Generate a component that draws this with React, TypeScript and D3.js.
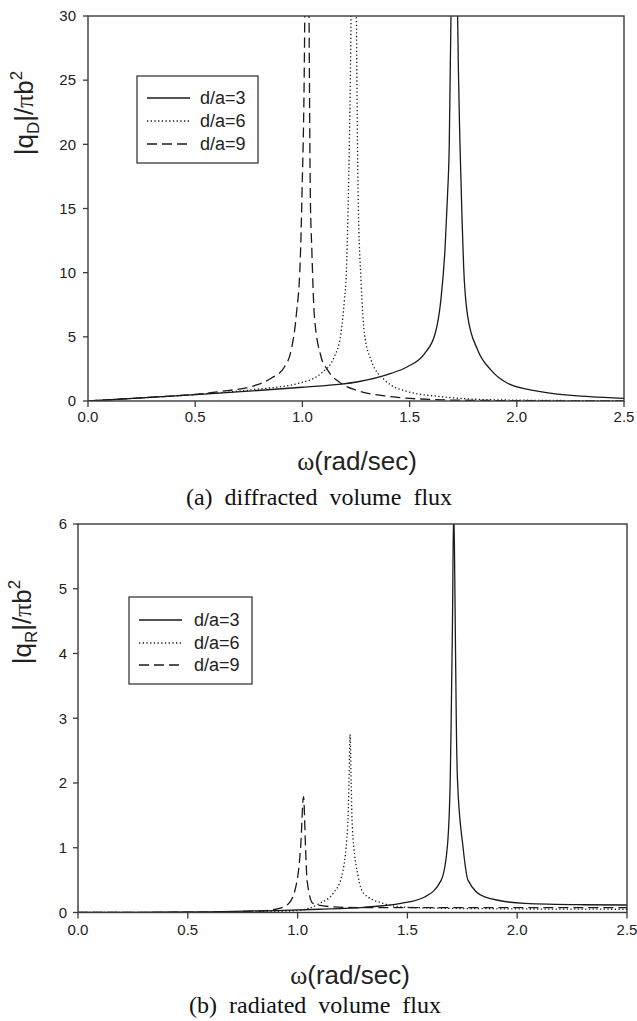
import React from "react";
import * as d3 from "d3";

// ---------- data ----------
const X_TICKS = [0, 0.5, 1.0, 1.5, 2.0, 2.5];
const TOP_Y_TICKS = [0, 5, 10, 15, 20, 25, 30];
const BOT_Y_TICKS = [0, 1, 2, 3, 4, 5, 6];
const LEGEND_LABELS = ["d/a=3", "d/a=6", "d/a=9"];

// (a) diffracted volume flux
const diffOmega3 = [0, 0.25, 0.5, 0.75, 1.0, 1.18, 1.26, 1.413, 1.49, 1.57, 1.62, 1.646, 1.665, 1.676, 1.685, 1.693, 1.7, 1.708, 1.716, 1.724, 1.735, 1.745, 1.752, 1.771, 1.817, 1.88, 1.957, 2.11, 2.34, 2.5];
const diffValue3 = [0, 0.24, 0.5, 0.77, 1.07, 1.31, 1.5, 2.15, 2.67, 3.7, 5.3, 7.9, 11.8, 15.7, 20, 30, 45, 70, 45, 30, 20, 14, 10.5, 6.6, 4.0, 2.4, 1.38, 0.73, 0.34, 0.2];

const diffOmega6 = [0, 0.25, 0.5, 0.777, 0.994, 1.087, 1.149, 1.18, 1.196, 1.205, 1.213, 1.22, 1.227, 1.234, 1.24, 1.246, 1.252, 1.26, 1.274, 1.289, 1.32, 1.383, 1.491, 1.646, 1.88, 2.2, 2.5];
const diffValue6 = [0, 0.24, 0.5, 0.9, 1.43, 2.15, 3.45, 5.3, 7.9, 10, 15, 21, 30, 45, 70, 45, 30, 16, 9.2, 5.3, 3.2, 1.64, 0.73, 0.34, 0.1, 0.04, 0.02];

const diffOmega9 = [0, 0.25, 0.5, 0.62, 0.777, 0.854, 0.917, 0.948, 0.971, 0.99, 0.998, 1.011, 1.016, 1.021, 1.026, 1.031, 1.037, 1.044, 1.056, 1.087, 1.118, 1.18, 1.26, 1.413, 1.6, 1.8, 2.1, 2.5];
const diffValue9 = [0, 0.25, 0.52, 0.75, 1.2, 1.77, 2.67, 4.0, 6.6, 11, 16, 30, 45, 70, 45, 30, 16, 11.8, 6.6, 3.45, 2.4, 1.38, 0.8, 0.34, 0.12, 0.05, 0.02, 0.01];

// (b) radiated volume flux
const radOmega3 = [0, 0.3, 0.6, 0.9, 1.1, 1.3, 1.47, 1.579, 1.654, 1.682, 1.695, 1.699, 1.705, 1.711, 1.718, 1.723, 1.728, 1.753, 1.776, 1.852, 2.034, 2.3, 2.5];
const radValue3 = [0, 0.003, 0.01, 0.03, 0.05, 0.08, 0.14, 0.24, 0.5, 1.02, 2.05, 2.87, 4.41, 6.3, 4.41, 2.87, 2.05, 1.02, 0.5, 0.24, 0.14, 0.12, 0.116];

const radOmega6 = [0, 0.5, 0.8, 1.0, 1.1, 1.163, 1.2, 1.228, 1.234, 1.239, 1.244, 1.249, 1.276, 1.3, 1.39, 1.5, 1.8, 2.5];
const radValue6 = [0, 0.003, 0.01, 0.03, 0.14, 0.3, 0.55, 1.33, 2.0, 2.75, 2.0, 1.33, 0.55, 0.3, 0.14, 0.08, 0.06, 0.05];

const radOmega9 = [0, 0.5, 0.8, 0.9, 0.96, 0.998, 1.014, 1.027, 1.036, 1.043, 1.07, 1.15, 1.3, 2.5];
const radValue9 = [0, 0.005, 0.02, 0.05, 0.14, 0.5, 1.02, 1.79, 1.02, 0.5, 0.14, 0.09, 0.074, 0.074];

const DASHES = ["none", "1.3,2.4", "10,5"];
const LINE_COLOR = "#1a1a1a";
const AXIS_COLOR = "#3a3a3a";
const SANS = "'Liberation Sans', Arial, sans-serif";
const SERIF = "'Liberation Serif', 'Times New Roman', serif";

type Series = { x: number[]; y: number[] };

const topSeries: Series[] = [
  { x: diffOmega3, y: diffValue3 },
  { x: diffOmega6, y: diffValue6 },
  { x: diffOmega9, y: diffValue9 },
];
const botSeries: Series[] = [
  { x: radOmega3, y: radValue3 },
  { x: radOmega6, y: radValue6 },
  { x: radOmega9, y: radValue9 },
];

type PanelProps = {
  id: string;
  left: number;
  right: number;
  top: number;
  bottom: number;
  yMax: number;
  yTicks: number[];
  series: Series[];
  yTickLabelX: number;
  xTickLabelY: number;
  legend: { x: number; y: number; w: number; h: number; lineX: number; textX: number; rowY: number[] };
};

function Panel(p: PanelProps) {
  const xs = d3.scaleLinear().domain([0, 2.5]).range([p.left, p.right]);
  const ys = d3.scaleLinear().domain([0, p.yMax]).range([p.bottom, p.top]);
  const line = d3
    .line<[number, number]>()
    .x((d) => xs(d[0]))
    .y((d) => ys(d[1]))
    .curve(d3.curveMonotoneX);
  return (
    <g>
      <defs>
        <clipPath id={p.id}>
          <rect x={p.left} y={p.top} width={p.right - p.left} height={p.bottom - p.top} />
        </clipPath>
      </defs>
      <g clipPath={`url(#${p.id})`}>
        {p.series.map((s, i) => (
          <path
            key={i}
            d={line(s.x.map((v, j) => [v, s.y[j]] as [number, number])) || ""}
            fill="none"
            stroke={LINE_COLOR}
            strokeWidth={1.3}
            strokeDasharray={DASHES[i]}
          />
        ))}
      </g>
      <rect
        x={p.left}
        y={p.top}
        width={p.right - p.left}
        height={p.bottom - p.top}
        fill="none"
        stroke={AXIS_COLOR}
        strokeWidth={1.4}
      />
      {p.yTicks.map((t) => (
        <g key={"y" + t}>
          <line x1={p.left - 5} x2={p.left} y1={ys(t)} y2={ys(t)} stroke={AXIS_COLOR} strokeWidth={1.3} />
          <text
            x={p.yTickLabelX}
            y={ys(t)}
            dy="0.35em"
            textAnchor="end"
            fontFamily={SANS}
            fontSize={15}
            fill="#222"
          >
            {t}
          </text>
        </g>
      ))}
      {X_TICKS.map((t) => (
        <g key={"x" + t}>
          <line x1={xs(t)} x2={xs(t)} y1={p.bottom} y2={p.bottom + 6} stroke={AXIS_COLOR} strokeWidth={1.3} />
          <text x={xs(t)} y={p.xTickLabelY} textAnchor="middle" fontFamily={SANS} fontSize={15} fill="#222">
            {d3.format(".1f")(t)}
          </text>
        </g>
      ))}
      <rect
        x={p.legend.x}
        y={p.legend.y}
        width={p.legend.w}
        height={p.legend.h}
        fill="#fff"
        stroke={AXIS_COLOR}
        strokeWidth={1.3}
      />
      {LEGEND_LABELS.map((lab, i) => (
        <g key={lab}>
          <line
            x1={p.legend.lineX}
            x2={p.legend.lineX + 43}
            y1={p.legend.rowY[i]}
            y2={p.legend.rowY[i]}
            stroke={LINE_COLOR}
            strokeWidth={1.3}
            strokeDasharray={DASHES[i]}
          />
          <text
            x={p.legend.textX}
            y={p.legend.rowY[i]}
            dy="0.35em"
            fontFamily={SANS}
            fontSize={18}
            fill="#222"
          >
            {lab}
          </text>
        </g>
      ))}
    </g>
  );
}

function YLabel({ x, y, sub }: { x: number; y: number; sub: string }) {
  return (
    <text
      transform={`translate(${x},${y}) rotate(-90)`}
      textAnchor="middle"
      fontFamily={SANS}
      fontSize={26}
      fill="#222"
    >
      |q
      <tspan fontSize={17} dy={6}>
        {sub}
      </tspan>
      <tspan dy={-6}>|/</tspan>
      <tspan fontFamily={SERIF}>π</tspan>
      <tspan>b</tspan>
      <tspan fontSize={17} dy={-11}>
        2
      </tspan>
    </text>
  );
}

function XLabel({ x, y }: { x: number; y: number }) {
  return (
    <text x={x} y={y} textAnchor="middle" fontFamily={SANS} fontSize={26} fill="#222">
      <tspan fontFamily={SERIF}>ω</tspan>(rad/sec)
    </text>
  );
}

export default function App() {
  return (
    <svg
      width={637}
      height={1021}
      style={{ position: "absolute", left: 0, top: 0, background: "#fff" }}
    >
      <Panel
        id="clipA"
        left={88}
        right={624}
        top={16}
        bottom={401}
        yMax={30}
        yTicks={TOP_Y_TICKS}
        series={topSeries}
        yTickLabelX={76}
        xTickLabelY={422}
        legend={{ x: 137, y: 76, w: 121, h: 87, lineX: 147, textX: 200, rowY: [98, 121, 144] }}
      />
      <YLabel x={33} y={113} sub="D" />
      <XLabel x={357} y={470} />
      <text x={319} y={505} textAnchor="middle" fontFamily={SERIF} fontSize={24} wordSpacing={6} fill="#111">
        (a) diffracted volume flux
      </text>

      <Panel
        id="clipB"
        left={78}
        right={627}
        top={524}
        bottom={912.5}
        yMax={6}
        yTicks={BOT_Y_TICKS}
        series={botSeries}
        yTickLabelX={67}
        xTickLabelY={935}
        legend={{ x: 129, y: 597, w: 123, h: 87, lineX: 139, textX: 194, rowY: [620, 643, 665] }}
      />
      <YLabel x={31} y={622} sub="R" />
      <XLabel x={350} y={984} />
      <text x={315} y={1013} textAnchor="middle" fontFamily={SERIF} fontSize={24} wordSpacing={6} fill="#111">
        (b) radiated volume flux
      </text>
    </svg>
  );
}
